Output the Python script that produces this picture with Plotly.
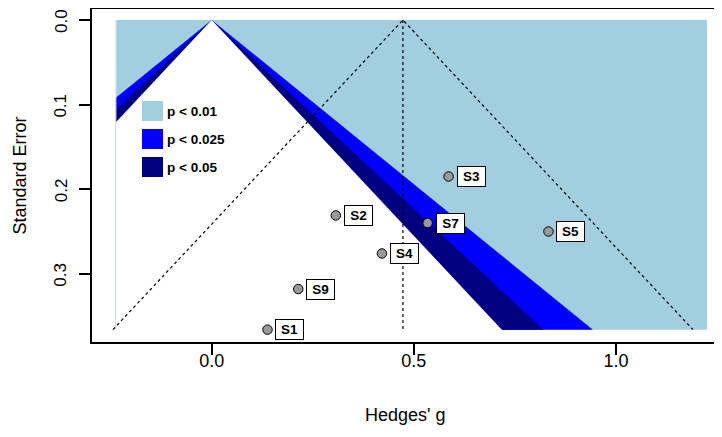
import plotly.graph_objects as go

# ---- data ----
studies = ["S1", "S2", "S3", "S4", "S5", "S7", "S9"]
hedges_g = [0.138, 0.307, 0.586, 0.421, 0.833, 0.534, 0.214]
std_err = [0.366, 0.231, 0.185, 0.276, 0.250, 0.240, 0.318]
pooled_estimate = 0.473

contour_labels = ["p < 0.01", "p < 0.025", "p < 0.05"]
contour_z = [2.5758, 2.2414, 1.9600]
contour_colors = ["#A2CFE0", "#0000FF", "#000080"]
inner_color = "#FFFFFF"
shade_x_range = [-0.237, 1.225]

x_ticks = [0.0, 0.5, 1.0]
x_tick_text = ["0.0", "0.5", "1.0"]
y_ticks = [0.0, 0.1, 0.2, 0.3]
y_tick_text = ["0.0", "0.1", "0.2", "0.3"]
ci_z = 1.96

FONT = "Liberation Sans, Arial, Helvetica, sans-serif"
OFF = 8                       # page body margin of the html page
W, H = 722 - OFF, 437 - OFF
# plot box in page pixels
BOX_L, BOX_R, BOX_T, BOX_B = 92, 719, 9, 342
ML, MR, MT, MB = BOX_L - OFF, W - (BOX_R - OFF), BOX_T - OFF, H - (BOX_B - OFF)
PW, PH = W - ML - MR, H - MT - MB
X0_PX, X_PER_UNIT = 211.7, 404.3
Y0_PX, Y_PER_UNIT = 20.0, 846.0

se_max = max(std_err)
xlo, xhi = shade_x_range

fig = go.Figure()

# background (most significant region)
fig.add_trace(go.Scatter(
    x=[xlo, xhi, xhi, xlo, xlo], y=[0, 0, se_max, se_max, 0],
    fill="toself", fillcolor=contour_colors[0], line=dict(width=0),
    mode="lines", hoverinfo="skip", showlegend=False))


def funnel_poly(z, se_bottom):
    xs, ys = [0.0], [0.0]
    xr = min(z * se_bottom, xhi)
    xs += [xr, -min(z * se_bottom, -xlo)]
    ys += [se_bottom, se_bottom]
    if z * se_bottom > -xlo:
        xs.append(xlo)
        ys.append(-xlo / z)
    xs.append(0.0)
    ys.append(0.0)
    return xs, ys


fills = contour_colors[1:] + [inner_color]
for k, (z, col) in enumerate(zip(contour_z, fills)):
    bottom = se_max if k < len(fills) - 1 else se_max * 1.01
    px_, py_ = funnel_poly(z, bottom)
    fig.add_trace(go.Scatter(
        x=px_, y=py_, fill="toself", fillcolor=col, line=dict(width=0),
        mode="lines", hoverinfo="skip", showlegend=False))

# faint left edge of the shaded area
fig.add_trace(go.Scatter(
    x=[xlo, xlo], y=[0, se_max],
    mode="lines", line=dict(color="#DDE4F6", width=1),
    hoverinfo="skip", showlegend=False))

# pseudo confidence funnel
fig.add_trace(go.Scatter(
    x=[pooled_estimate - ci_z * se_max, pooled_estimate, pooled_estimate + ci_z * se_max],
    y=[se_max, 0, se_max], mode="lines",
    line=dict(color="black", width=1.2, dash="dot"),
    hoverinfo="skip", showlegend=False))
fig.add_trace(go.Scatter(
    x=[pooled_estimate, pooled_estimate], y=[0, se_max], mode="lines",
    line=dict(color="black", width=1.2, dash="dot"),
    hoverinfo="skip", showlegend=False))

# studies
fig.add_trace(go.Scatter(
    x=hedges_g, y=std_err, mode="markers", text=studies,
    marker=dict(size=9.5, color="#999999", line=dict(color="black", width=1)),
    showlegend=False))

annotations = []
for s, gx, sy in zip(studies, hedges_g, std_err):
    annotations.append(dict(
        x=gx, y=sy, xref="x", yref="y", text="<b>%s</b>" % s, showarrow=False,
        xanchor="left", yanchor="middle", xshift=8,
        font=dict(family=FONT, size=13.5, color="black"),
        bgcolor="white", bordercolor="black", borderwidth=1, borderpad=1.5,
        width=24, height=16, align="center"))


def pxx(p):
    return (p - BOX_L) / PW


def pxy(p):
    return 1 - (p - BOX_T) / PH


shapes = []
for i, (lab, col) in enumerate(zip(contour_labels, contour_colors)):
    top = 101 + 28 * i
    shapes.append(dict(type="rect", xref="paper", yref="paper",
                       x0=pxx(142), x1=pxx(163), y0=pxy(top + 20), y1=pxy(top),
                       fillcolor=col, line=dict(width=0)))
    annotations.append(dict(
        x=pxx(165), y=pxy(top + 10), xref="paper", yref="paper",
        text="<b>%s</b>" % lab, showarrow=False, xanchor="left", yanchor="middle",
        font=dict(family=FONT, size=13.5, color="black")))

# y tick labels (rotated, as in base R graphics)
for tv, tt in zip(y_ticks, y_tick_text):
    annotations.append(dict(
        x=pxx(61), y=tv, xref="paper", yref="y", text=tt, showarrow=False,
        xanchor="center", yanchor="middle", textangle=-90, yshift=-1,
        font=dict(family=FONT, size=17, color="black")))

# axis titles
annotations.append(dict(
    x=0.5, y=pxy(415), xref="paper", yref="paper", text="Hedges' g",
    showarrow=False, xanchor="center", yanchor="middle",
    font=dict(family=FONT, size=18, color="black")))
annotations.append(dict(
    x=pxx(19), y=0.5, xref="paper", yref="paper", text="Standard Error",
    showarrow=False, xanchor="center", yanchor="middle", textangle=-90,
    font=dict(family=FONT, size=18, color="black")))

x_range = [(BOX_L - X0_PX) / X_PER_UNIT, (BOX_R - X0_PX) / X_PER_UNIT]
y_range = [(BOX_B - Y0_PX) / Y_PER_UNIT, (BOX_T - Y0_PX) / Y_PER_UNIT]

fig.update_layout(
    template="none",
    width=W, height=H, margin=dict(l=ML, r=MR, t=MT, b=MB, autoexpand=False),
    paper_bgcolor="white", plot_bgcolor="white",
    font=dict(family=FONT, size=18, color="black"),
    shapes=shapes, annotations=annotations, showlegend=False,
    xaxis=dict(range=x_range, tickmode="array", tickvals=x_ticks, ticktext=x_tick_text,
               automargin=False, ticklabeloverflow="allow",
               showgrid=False, zeroline=False, showline=True, mirror=True,
               linecolor="black", linewidth=1.5, ticks="outside", ticklen=11,
               tickwidth=1.5, tickcolor="black", tickfont=dict(size=18),
               ticklabelstandoff=-9),
    yaxis=dict(range=y_range, tickmode="array", tickvals=y_ticks, ticktext=y_tick_text,
               automargin=False, showticklabels=False,
               showgrid=False, zeroline=False, showline=True, mirror=True,
               linecolor="black", linewidth=1.5, ticks="outside", ticklen=11,
               tickwidth=1.5, tickcolor="black"),
)

fig.write_html("out.html")
